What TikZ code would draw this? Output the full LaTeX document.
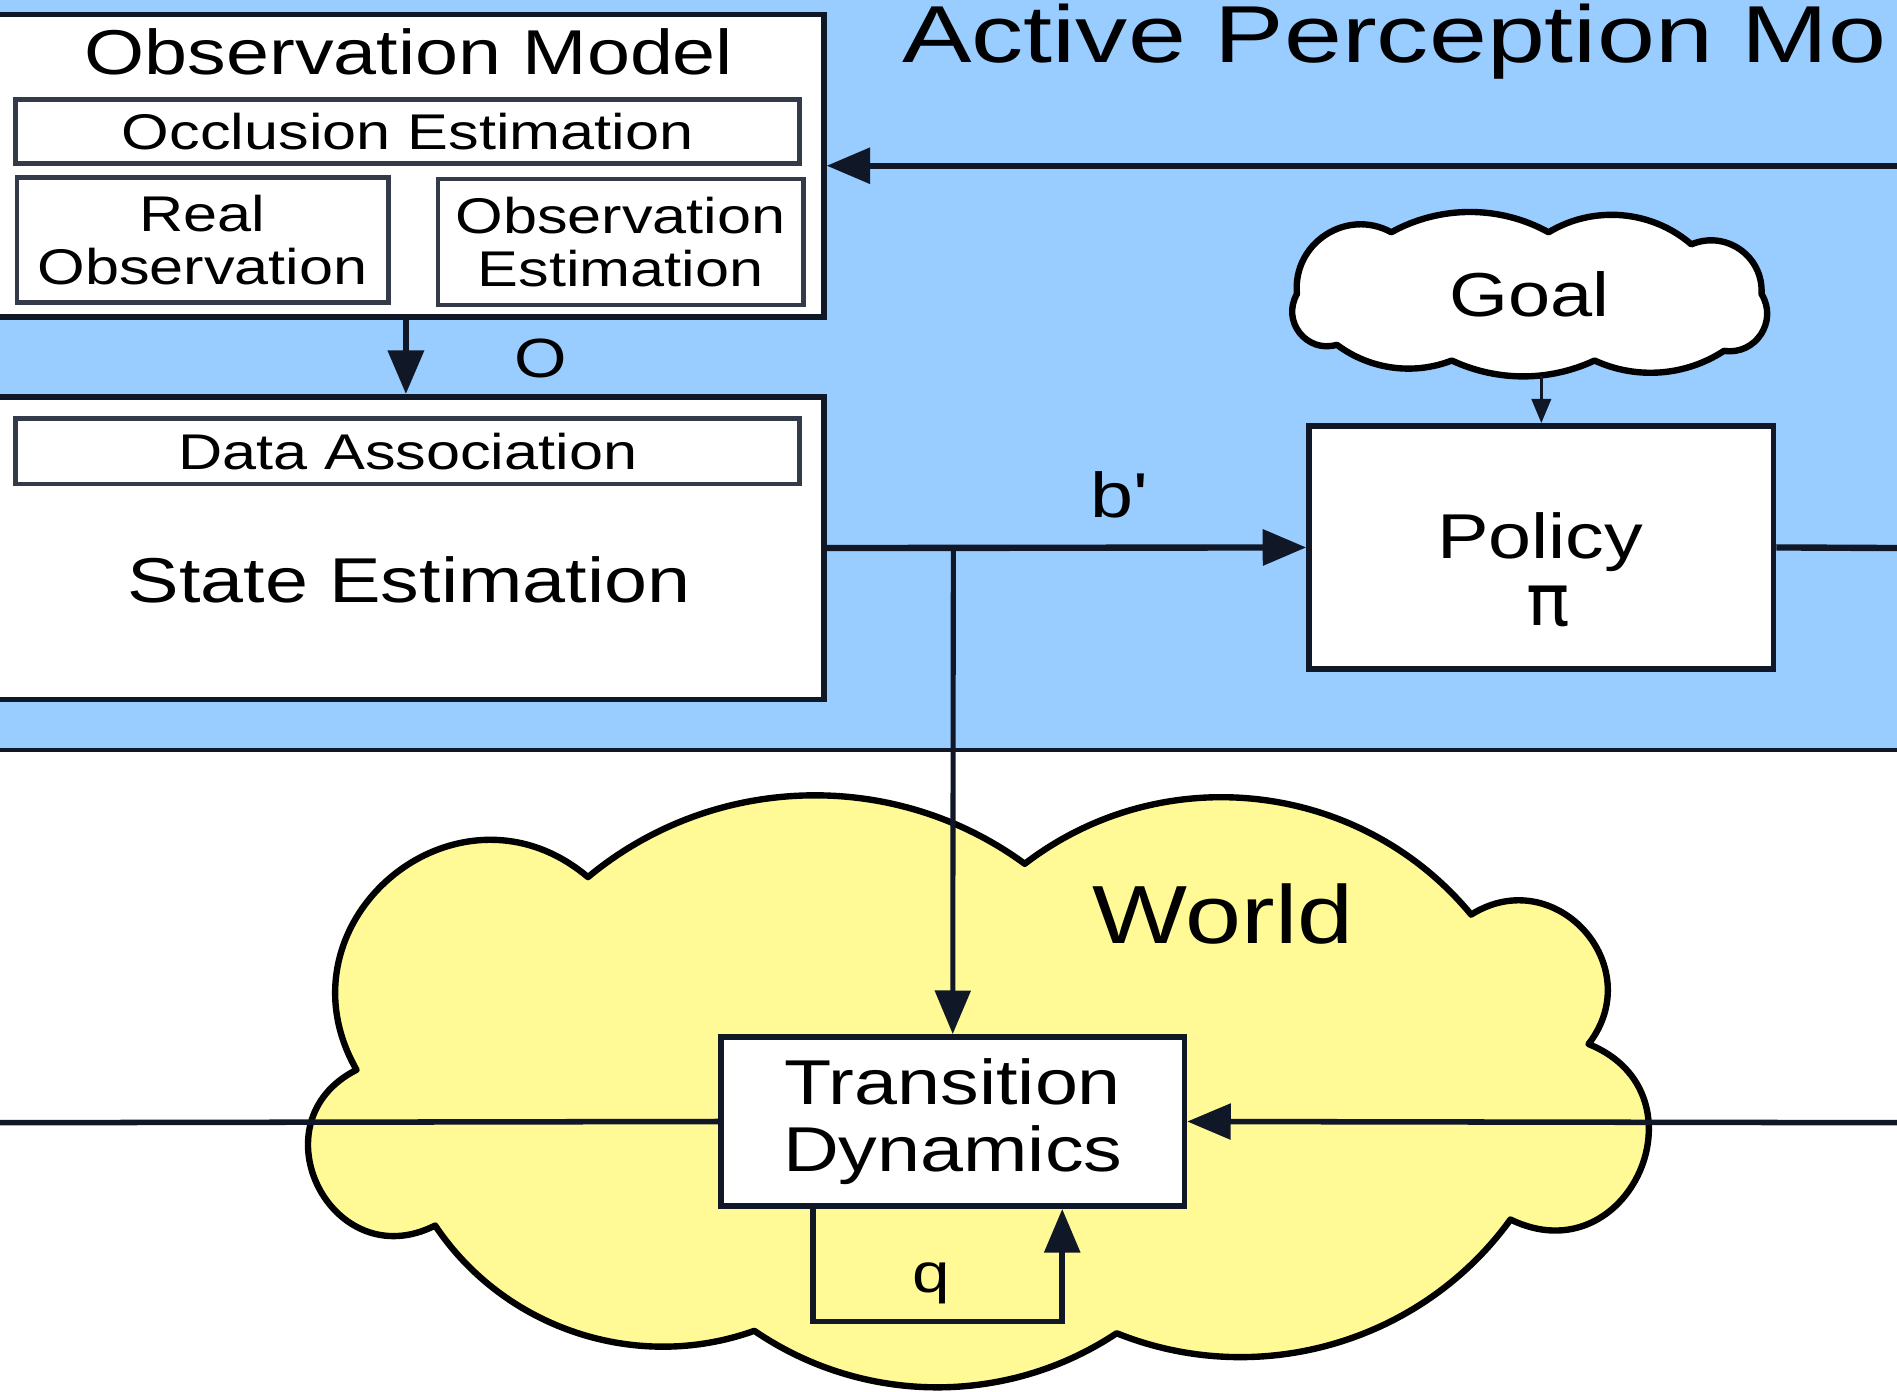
\documentclass[tikz,border=0pt]{standalone}
\usepackage{fontspec}
\setmainfont{Liberation Sans}[FakeStretch=1.22]
\newfontfamily\titlefont{Liberation Sans}[FakeStretch=1.29]
\newfontfamily\pifont{DejaVu Sans}
\usetikzlibrary{arrows.meta}
\definecolor{skyfill}{RGB}{153,204,255}
\definecolor{worldfill}{RGB}{255,249,150}
\definecolor{ink}{RGB}{16,24,40}
\tikzset{
  bigbox/.style={draw=ink, line width=1.3pt, fill=white, inner sep=0pt},
  smallbox/.style={draw=ink!85, line width=1.1pt, fill=white, inner sep=0pt, align=center, font=\fontsize{11.8}{12.5}\selectfont},
  mainbox/.style={bigbox, align=center, font=\fontsize{14.9}{15.9}\selectfont},
  puffline/.style={draw=black, line width=1.5pt, line join=round},
  flow/.style={draw=ink, line width=1.5pt},
  arr/.style={flow, -{Triangle[length=3.6mm,width=2.9mm]}},
  lbl/.style={inner sep=0pt, anchor=base, font=\fontsize{14.9}{15.9}\selectfont},
}

\begin{document}
\begin{tikzpicture}
  \clip (0,0) rectangle (15.68,-11.5);
  \fill[skyfill] (0,0.1) rectangle (15.68,-6.2);
  \draw[ink, line width=1pt] (0,-6.2) -- (15.68,-6.2);
  \filldraw[puffline, fill=worldfill] (2.947,-8.843) to[bend left=80, looseness=1.45] (4.86,-7.25)
    to[bend left=38, looseness=0.95] (8.47,-7.14) to[bend left=44, looseness=0.99] (12.16,-7.56)
    to[bend left=80, looseness=1.45] (13.13,-8.63) to[bend left=92, looseness=1.75] (12.485,-10.08)
    to[bend left=38, looseness=0.95] (9.23,-11.02) to[bend left=34, looseness=0.93] (6.235,-11.00)
    to[bend left=38, looseness=0.95] (3.597,-10.13) to[bend left=90, looseness=1.7] (2.947,-8.843) -- cycle;
  \node[lbl, font=\fontsize{19.4}{21}\selectfont] (worldtxt) at (10.11,-7.80) {World};
  \node[lbl, anchor=base west, font=\titlefont\fontsize{19}{21}\selectfont] (title) at (7.45,-0.52) {Active Perception Mo};

  \node[bigbox, minimum width=6.91cm, minimum height=2.5cm] (obsmodel) at (3.355,-1.37) {};
  \node[lbl] (obstitle) at (3.38,-0.62) {Observation Model};
  \node[smallbox, minimum width=6.48cm, minimum height=0.53cm] (occl) at (3.37,-1.085) {Occlusion Estimation};
  \node[smallbox, minimum width=3.07cm, minimum height=1.03cm] (realobs) at (1.675,-1.985) {Real\\Observation};
  \node[smallbox, minimum width=3.02cm, minimum height=1.04cm] (obsest) at (5.13,-2.0) {Observation\\Estimation};

  \node[bigbox, minimum width=6.91cm, minimum height=2.5cm] (stateest) at (3.355,-4.53) {};
  \node[smallbox, minimum width=6.48cm, minimum height=0.54cm] (dataassoc) at (3.37,-3.73) {Data Association};
  \node[lbl] (statetxt) at (3.38,-4.98) {State Estimation};

  \filldraw[puffline, fill=white] (10.72,-2.43) to[bend left=62, looseness=1.16] (11.50,-1.92)
    to[bend left=29, looseness=0.91] (12.80,-1.92) to[bend left=36, looseness=0.94] (13.98,-2.02)
    to[bend left=58, looseness=1.12] (14.56,-2.43) to[bend left=65, looseness=1.2] (14.25,-2.90)
    to[bend left=29, looseness=0.91] (13.18,-2.98) to[bend left=25, looseness=0.9] (12.00,-2.98)
    to[bend left=29, looseness=0.91] (11.05,-2.85) to[bend left=68, looseness=1.25] (10.72,-2.43) -- cycle;
  \node[lbl, font=\fontsize{14.6}{16}\selectfont] (goal) at (12.64,-2.62) {Goal};
  \coordinate (goalbot) at (12.74,-3.11);

  \node[bigbox, minimum width=3.84cm, minimum height=2.01cm] (policy) at (12.74,-4.525) {};
  \node[lbl] (policytxt) at (12.73,-4.62) {Policy};
  \node[lbl, font=\pifont\fontsize{17}{19}\selectfont] (pitxt) at (12.80,-5.17) {π};

  \node[mainbox, minimum width=3.83cm, minimum height=1.40cm] (trans) at (7.875,-9.27) {Transition\\Dynamics};

  \node[lbl, font=\fontsize{13}{15}\selectfont] (olabel) at (4.47,-3.12) {O};
  \node[lbl] (blabel) at (9.24,-4.28) {b\textquotesingle};
  \node[lbl, font=\fontsize{13}{15}\selectfont] (qlabel) at (7.70,-10.68) {q};

  \coordinate (split) at (7.88,-4.53);
  \coordinate (eastact) at (15.68,-1.37);
  \coordinate (eastpol) at (15.68,-4.53);
  \coordinate (eastin) at (15.68,-9.28);
  \coordinate (westend) at (0,-9.28);

  \draw[arr] (obsmodel.south) -- (stateest.north);
  \draw[arr] (eastact) -- (obsmodel.east);
  \draw[arr, line width=0.7pt, -{Triangle[length=2mm,width=1.6mm]}] (goalbot) -- (policy.north);
  \draw[arr] (stateest.east) -- (policy.west);
  \draw[flow] (policy.east) -- (eastpol);
  \draw[arr, line width=1.2pt] (split) -- (trans.north);
  \draw[flow, line width=1.3pt] (westend) -- (trans.west);
  \draw[arr, line width=1.3pt] (eastin) -- (trans.east);
  \draw[arr, line width=1.3pt] ([xshift=-1.155cm]trans.south) -- ++(0,-0.93) -| ([xshift=0.905cm]trans.south);
\end{tikzpicture}
\end{document}
